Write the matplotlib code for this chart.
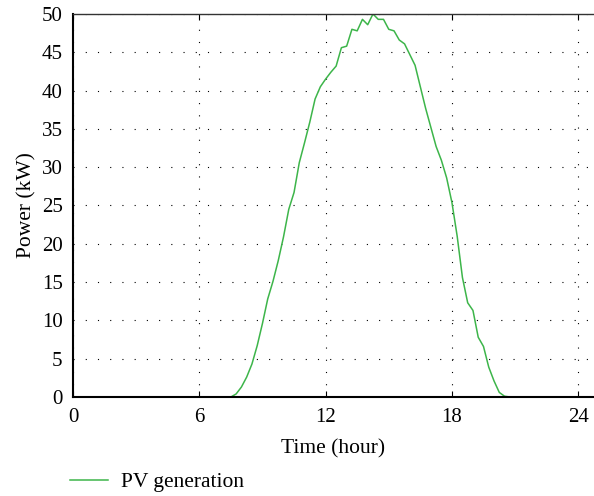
import matplotlib.pyplot as plt
import numpy as np

plt.rcParams["font.family"] = ["Liberation Serif", "DejaVu Serif"]

# PV output, 15-minute steps (hours, kW)
hours = [0.0, 7.5, 7.75, 8.0, 8.25, 8.5, 8.75, 9.0, 9.25, 9.5, 9.75, 10.0,
         10.25, 10.5, 10.75, 11.0, 11.25, 11.5, 11.75, 12.0, 12.25, 12.5,
         12.75, 13.0, 13.25, 13.5, 13.75, 14.0, 14.25, 14.5, 14.75, 15.0,
         15.25, 15.5, 15.75, 16.0, 16.25, 16.5, 16.75, 17.0, 17.25, 17.5,
         17.75, 18.0, 18.25, 18.5, 18.75, 19.0, 19.25, 19.5, 19.75, 20.0,
         20.25, 20.5, 20.75, 24.0]
pv_power = [0.0, 0.0, 0.4, 1.3, 2.6, 4.3, 6.7, 9.6, 12.8, 15.1, 17.8, 20.9,
            24.5, 26.7, 30.6, 33.2, 35.9, 38.9, 40.5, 41.5, 42.4, 43.2,
            45.6, 45.8, 48.0, 47.8, 49.3, 48.6, 50.0, 49.3, 49.3, 48.0,
            47.8, 46.6, 46.1, 44.7, 43.3, 40.5, 37.7, 35.2, 32.7, 30.9,
            28.6, 25.4, 21.0, 15.6, 12.3, 11.3, 7.8, 6.6, 3.9, 2.1,
            0.6, 0.1, 0.0, 0.0]

x_ticks = [0, 6, 12, 18, 24]
y_ticks = np.arange(0, 51, 5)

fig = plt.figure(figsize=(5.94, 4.96), dpi=100)
ax = fig.add_axes([0.1229, 0.1996, 0.8771, 0.7722])

line, = ax.plot(hours, pv_power, color="#3DB54A", linewidth=1.1, label="PV generation")

ax.set_xlim(0, 24.75)
ax.set_ylim(0, 50)
ax.set_xticks(x_ticks)
ax.set_yticks(y_ticks)
ax.grid(True, color="black", linestyle=(0, (1, 10)), linewidth=0.8)

ax.spines["right"].set_visible(False)
ax.spines["left"].set_linewidth(1.5)
ax.spines["bottom"].set_linewidth(1.5)
ax.spines["top"].set_linewidth(1.0)
ax.spines["top"].set_color("#333333")
ax.tick_params(axis="x", direction="in", length=4, top=True, labelsize=15, pad=8)
ax.tick_params(axis="y", direction="in", length=0, labelsize=15, pad=7.5)

ax.set_xlabel("Time (hour)", fontsize=15.5, labelpad=9)
ax.set_ylabel("Power (kW)", fontsize=15.5, labelpad=4)

fig.legend(handles=[line], loc="center left", bbox_to_anchor=(0.118, 0.028),
           frameon=False, fontsize=15.5, handlelength=1.75, handletextpad=0.6,
           borderpad=0, borderaxespad=0)

fig.savefig("out.png", dpi=100)
